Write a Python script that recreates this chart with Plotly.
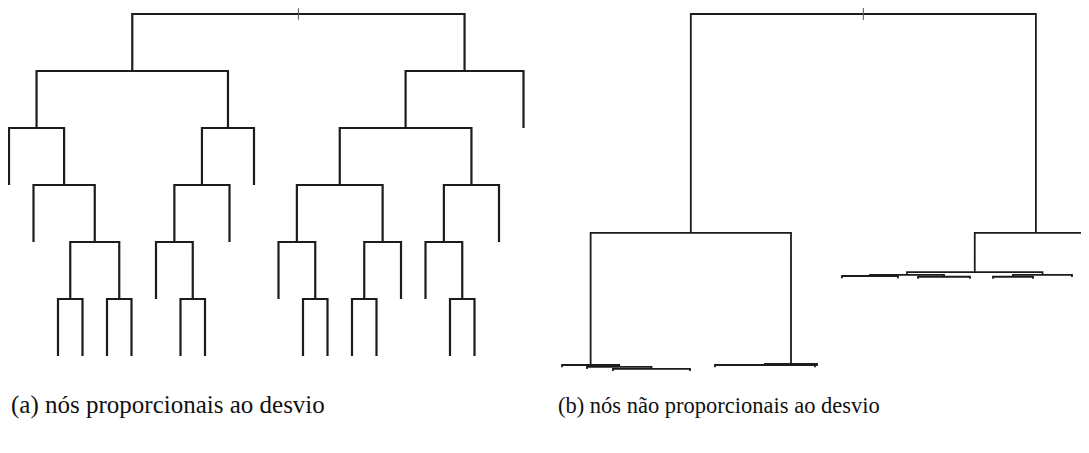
import plotly.graph_objects as go

# ---------------- Tree (a): nodes proportional to deviation ----------------
# leaf positions (evenly spaced leaf slots)
a_leaf_pos = [i for i in range(22)]
# merges: (left_id, right_id, height); leaves are 0..21, internal ids start at 22
a_merges = [
    (2, 3, 1), (4, 5, 1), (22, 23, 2), (1, 24, 3), (0, 25, 4),
    (7, 8, 1), (6, 27, 2), (28, 9, 3), (29, 10, 4), (26, 30, 5),
    (12, 13, 1), (11, 32, 2), (14, 15, 1), (34, 16, 2), (33, 35, 3),
    (18, 19, 1), (17, 37, 2), (38, 20, 3), (36, 39, 4), (40, 21, 5),
    (31, 41, 6),
]
a_hang = 1.0

# ---------------- Tree (b): nodes not proportional to deviation ----------------
b_leaf_pos = [562, 587, 613, 690, 715, 815, 817, 842, 898, 918, 970, 993, 1033, 1072, 1097]
b_merges = [
    (2, 3, 0.3), (1, 15, 0.85), (0, 16, 1.4), (4, 5, 1.4), (18, 6, 1.7),
    (17, 19, 38.5), (7, 8, 26.4), (9, 10, 26.2), (21, 22, 26.7),
    (11, 12, 26.2), (24, 13, 26.7), (23, 25, 27.5), (26, 14, 38.5),
    (20, 27, 100),
]
b_hang = 0.6

captions = ["(a) nós proporcionais ao desvio", "(b) nós não proporcionais ao desvio"]

W, H = 1089, 453
OFF = 8  # page body margin of the html page


def dendro_lines(leaf_pos, merges, hang):
    n = len(leaf_pos)
    pos = {i: p for i, p in enumerate(leaf_pos)}
    hgt = {}
    xs, ys = [], []
    for k, (l, r, h) in enumerate(merges):
        nid = n + k
        pos[nid] = (pos[l] + pos[r]) / 2.0
        hgt[nid] = h
        bl = hgt[l] if l in hgt else h - hang
        br = hgt[r] if r in hgt else h - hang
        xs += [pos[l], pos[l], pos[r], pos[r], None]
        ys += [bl, h, h, br, None]
    root = n + len(merges) - 1
    return xs, ys, pos[root], hgt[root]


fig = go.Figure()

ax, ay, arx, ary = dendro_lines(a_leaf_pos, a_merges, a_hang)
bx, by, brx, bry = dendro_lines(b_leaf_pos, b_merges, b_hang)

line_col = "#1c1c1c"
fig.add_trace(go.Scatter(x=ax, y=ay, mode="lines", xaxis="x", yaxis="y",
                         line=dict(color=line_col, width=2.2), hoverinfo="skip"))
fig.add_trace(go.Scatter(x=[arx, arx], y=[ary + 0.1, ary - 0.1], mode="lines",
                         xaxis="x", yaxis="y", line=dict(color="#555", width=1), hoverinfo="skip"))
fig.add_trace(go.Scatter(x=bx, y=by, mode="lines", xaxis="x2", yaxis="y2",
                         line=dict(color=line_col, width=1.8), hoverinfo="skip"))
fig.add_trace(go.Scatter(x=[brx, brx], y=[bry + 1.7, bry - 1.7], mode="lines",
                         xaxis="x2", yaxis="y2", line=dict(color="#555", width=1), hoverinfo="skip"))

hidden = dict(visible=False, showgrid=False, zeroline=False, fixedrange=True)
serif = "Times New Roman, Liberation Serif, Tinos, DejaVu Serif"
fig.update_layout(
    width=W, height=H,
    margin=dict(l=0, r=0, t=0, b=0),
    paper_bgcolor="white", plot_bgcolor="white",
    showlegend=False,
    xaxis=dict(domain=[0, 0.5], range=[(OFF - 9) / 24.5, (W / 2 + OFF - 9) / 24.5], **hidden),
    yaxis=dict(domain=[0, 1], range=[(356 - (H + OFF)) / 57, (356 - OFF) / 57], **hidden),
    xaxis2=dict(domain=[0.5, 1], range=[W / 2 + OFF, W + OFF], anchor="y2", **hidden),
    yaxis2=dict(domain=[0, 1], range=[(370 - (H + OFF)) / 3.56, (370 - OFF) / 3.56],
                anchor="x2", **hidden),
    annotations=[
        dict(text=captions[0], xref="paper", yref="paper", x=0.5 / W, y=1 - (405 - OFF) / H,
             xanchor="left", yanchor="middle", showarrow=False,
             font=dict(family=serif, size=25, color="#111")),
        dict(text=captions[1], xref="paper", yref="paper", x=(556 - OFF) / W, y=1 - (405 - OFF) / H,
             xanchor="left", yanchor="middle", showarrow=False,
             font=dict(family=serif, size=22.5, color="#111")),
    ],
)

fig.write_html("out.html")
